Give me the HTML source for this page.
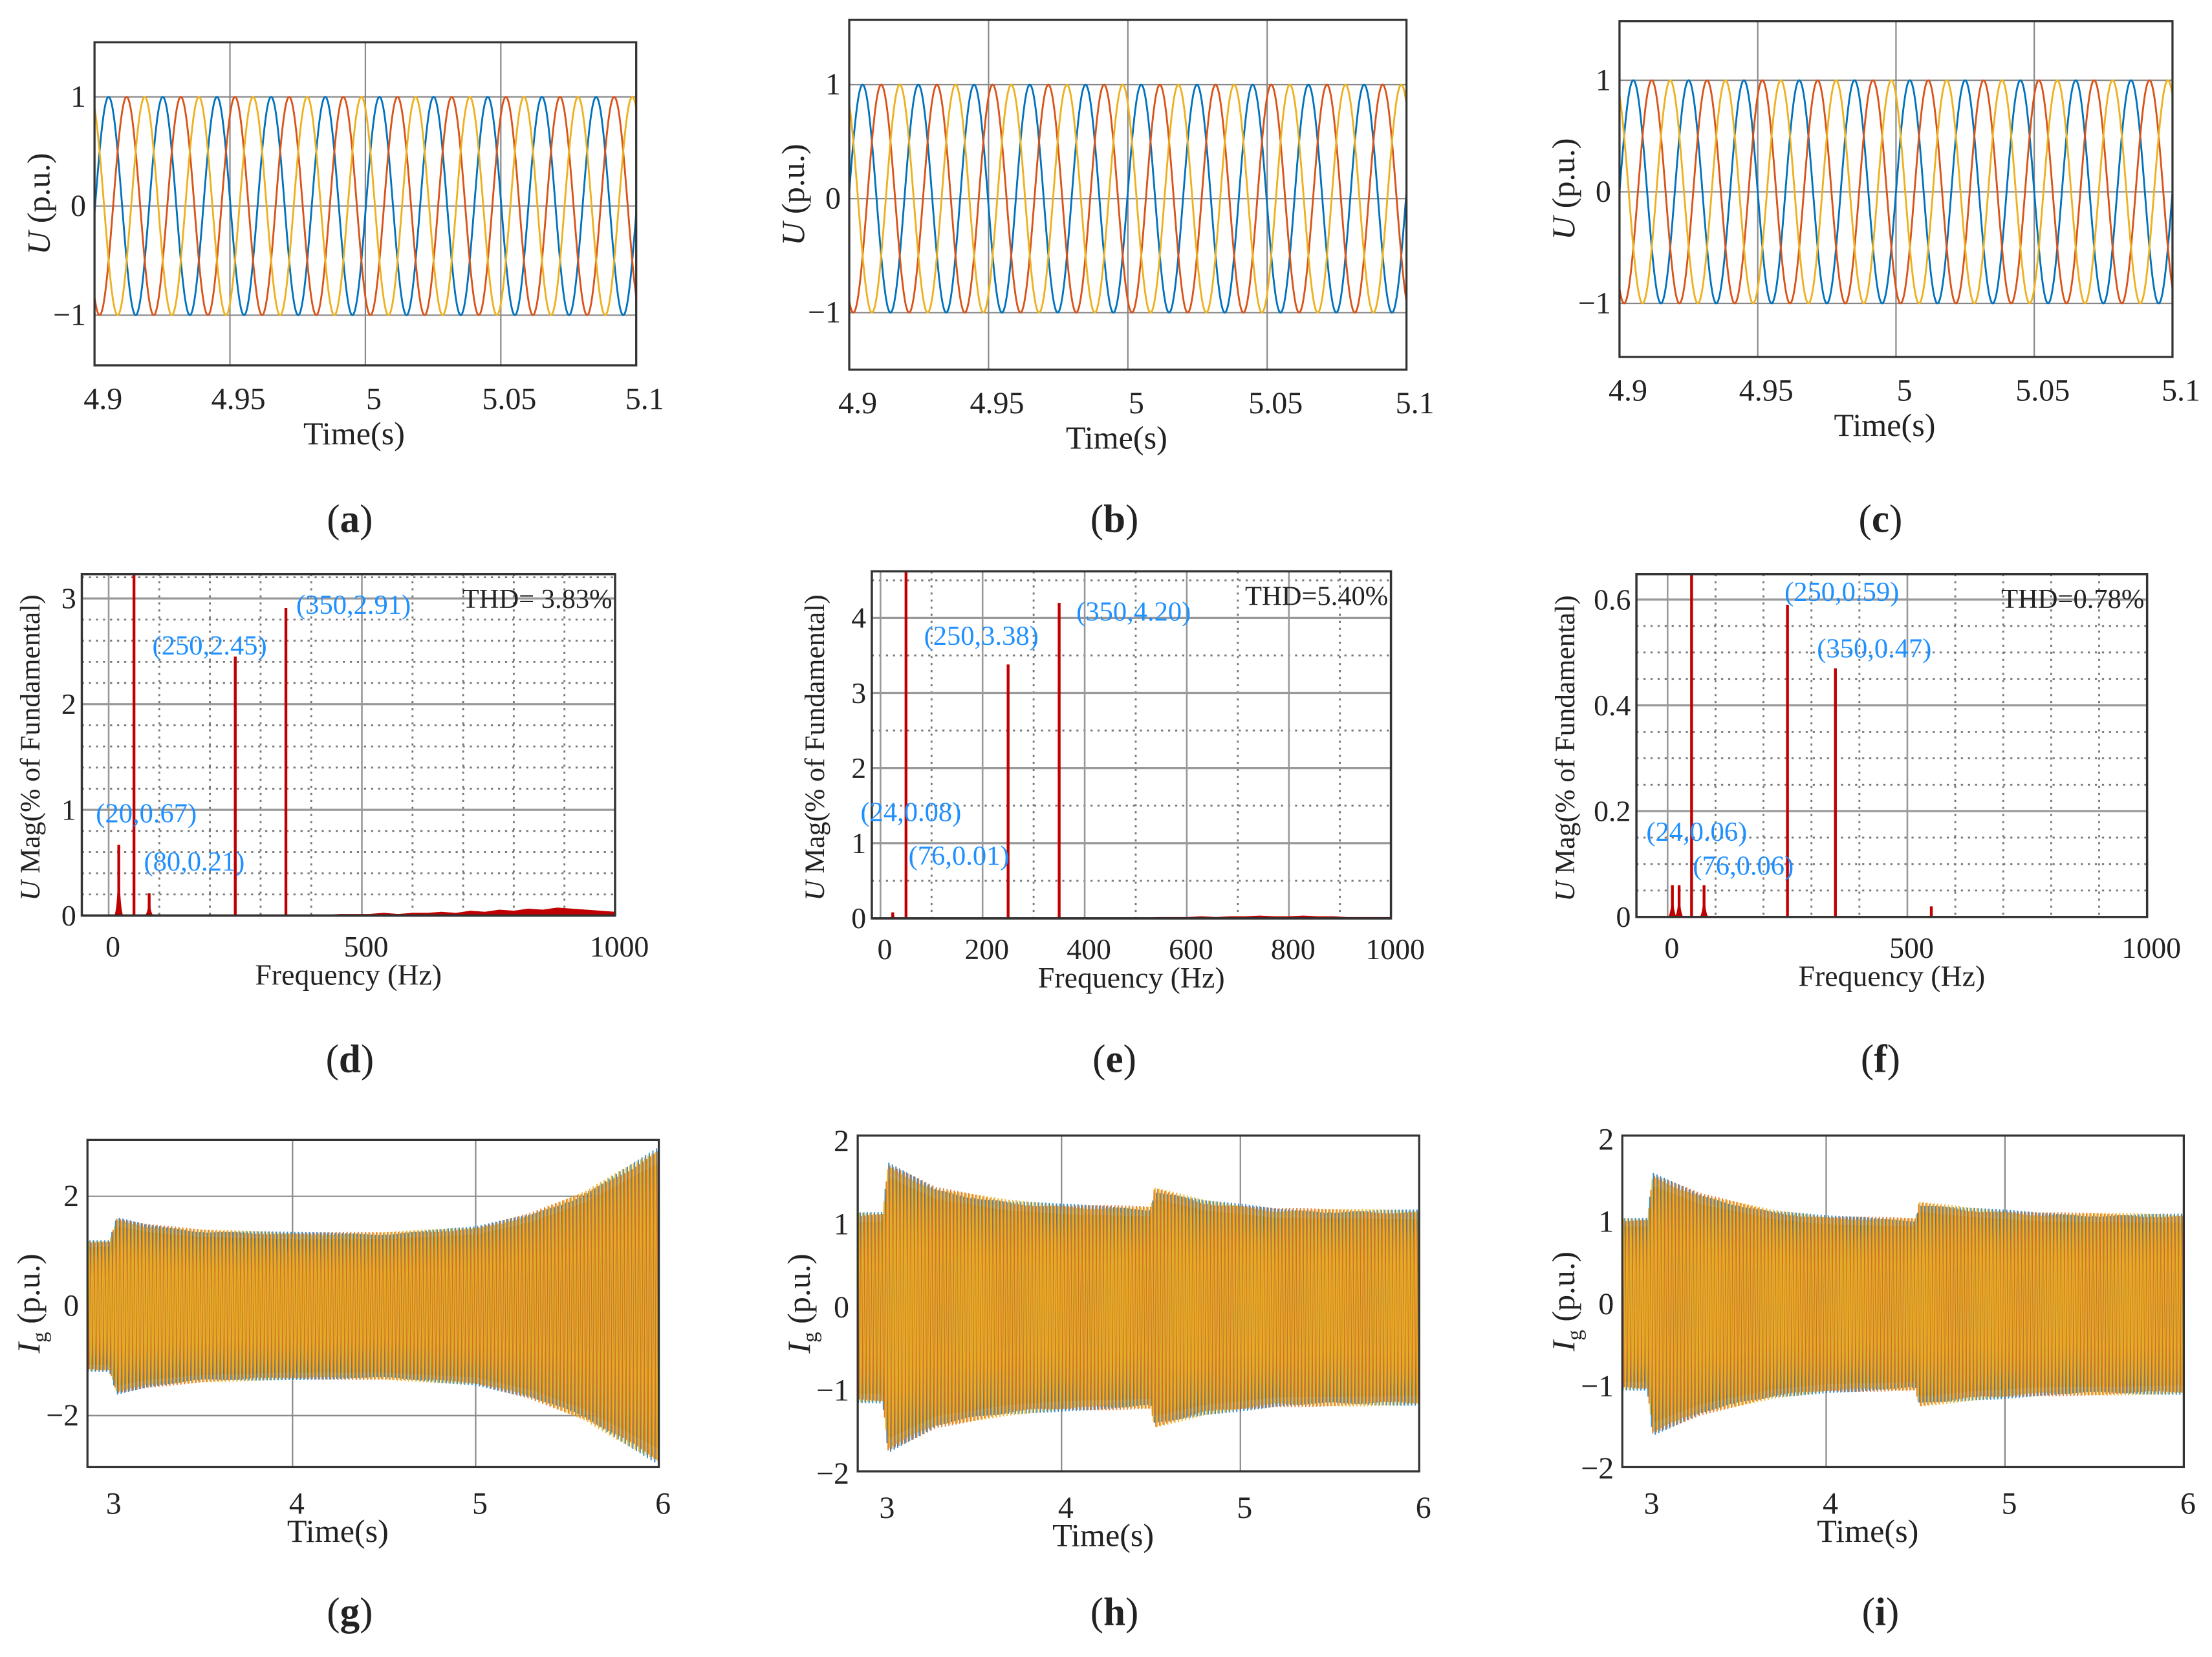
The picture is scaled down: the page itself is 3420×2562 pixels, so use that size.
<!DOCTYPE html>
<html><head><meta charset="utf-8">
<style>
html,body{margin:0;padding:0;background:#fff;}
svg{display:block;}
text{font-family:"Liberation Serif",serif;fill:#222;}
</style></head>
<body>
<svg id="fig" xmlns="http://www.w3.org/2000/svg" width="3420" height="2562" viewBox="0 0 1568 1174.6" preserveAspectRatio="none">
<rect width="1568" height="1175" fill="#fff"/>
</svg>
<script>
// ---------- data ----------
const phaseColors = ['#0072BD', '#D95319', '#EDB120'];
const gridFreq = 50;
const voltAmp = [1.0, 1.0, 1.0];
const voltPeak = [4.9052, 4.9048, 4.905];
// spectrum (d)
const specD_freq = [20, 50, 80, 250, 350];
const specD_mag = [0.67, 100, 0.21, 2.45, 2.91];
const specD_noise = [0,0,0.01,0.01,0.01,0.02,0.01,0.02,0.02,0.03,0.02,0.04,0.03,0.05,0.04,0.06,0.05,0.07,0.06,0.05,0.04,0.03];
const specD_labels = ['(20,0.67)','(80,0.21)','(250,2.45)','(350,2.91)'];
// spectrum (e)
const specE_freq = [24, 50, 76, 250, 350];
const specE_mag = [0.08, 100, 0.01, 3.38, 4.20];
const specE_noise = [0,0,0,0,0,0.01,0.01,0.01,0.02,0.01,0.02,0.02,0.03,0.02,0.02,0.03,0.02,0.02,0.01,0.01,0.01,0.01];
const specE_labels = ['(24,0.08)','(76,0.01)','(250,3.38)','(350,4.20)'];
// spectrum (f)
const specF_freq = [10, 24, 50, 76, 250, 350, 550];
const specF_mag = [0.06, 0.06, 100, 0.06, 0.59, 0.47, 0.02];
const specF_noise = [0,0,0,0,0,0,0,0,0,0,0,0,0,0,0,0,0,0,0,0,0,0];
const specF_labels = ['(24,0.06)','(76,0.06)','(250,0.59)','(350,0.47)'];
const thdLabels = ['THD= 3.83%', 'THD=5.40%', 'THD=0.78%'];
// current envelopes (g,h,i)
const envG_t = [2.88, 3.0, 3.04, 3.2, 3.5, 4.0, 4.5, 5.0, 5.3, 5.6, 5.8, 6.0];
const envG_a = [1.2, 1.2, 1.62, 1.5, 1.4, 1.35, 1.35, 1.45, 1.7, 2.1, 2.5, 2.9];
const envH_t = [2.88, 3.0, 3.03, 3.3, 3.7, 4.0, 4.5, 4.52, 4.8, 5.2, 6.0];
const envH_a = [1.15, 1.15, 1.75, 1.45, 1.3, 1.25, 1.22, 1.45, 1.3, 1.2, 1.18];
const envI_t = [2.88, 3.0, 3.03, 3.3, 3.7, 4.0, 4.5, 4.52, 4.8, 5.2, 6.0];
const envI_a = [1.05, 1.05, 1.6, 1.35, 1.15, 1.08, 1.05, 1.25, 1.18, 1.12, 1.1];

// ---------- helpers ----------
const NS = 'http://www.w3.org/2000/svg';
const svg = document.getElementById('fig');
function mk(tag, attrs, parent){
  const e = document.createElementNS(NS, tag);
  for (const k in attrs) e.setAttribute(k, attrs[k]);
  (parent||svg).appendChild(e);
  return e;
}
let clipId = 0;
function frame(p){
  const g = mk('g', {});
  
  
  const sx = v => p.x0 + (v - p.xmin) / (p.xmax - p.xmin) * (p.x1 - p.x0);
  const sy = v => p.y1 - (v - p.ymin) / (p.ymax - p.ymin) * (p.y1 - p.y0);
  const cid = 'clip' + (clipId++);
  const cp = mk('clipPath', {id: cid}, g);
  mk('rect', {x: p.x0, y: p.y0, width: p.x1 - p.x0, height: p.y1 - p.y0}, cp);
  return {g, sx, sy, cid};
}
function label(g, x, y, txt, size, opts){
  const t = mk('text', Object.assign({x, y, 'font-size': size, 'text-anchor': 'middle'}, opts||{}), g);
  t.textContent = txt;
  return t;
}
function caption(x, y, letter){
  const t = mk('text', {x, y, 'font-size': 28, 'text-anchor': 'middle'});
  
  
  t.appendChild(document.createTextNode('('));
  const b = mk('tspan', {'font-weight': 'bold'}, t); b.textContent = letter;
  t.appendChild(document.createTextNode(')'));
}
function yTitle(g, x, y, main, sub, rest, size){
  const t = mk('text', {x, y, 'font-size': size, 'text-anchor': 'middle', transform: `rotate(-90 ${x} ${y})`}, g);
  
  
  const a = mk('tspan', {'font-style': 'italic'}, t); a.textContent = main;
  if (sub){ const s = mk('tspan', {'font-size': size*0.65, dy: 5}, t); s.textContent = sub; const r = mk('tspan', {dy: -5}, t); r.textContent = rest; }
  else { const r = mk('tspan', {}, t); r.textContent = rest; }
}
function interp(ts, as, t){
  if (t <= ts[0]) return as[0];
  for (let i = 1; i < ts.length; i++) if (t <= ts[i]) { const f = (t - ts[i-1])/(ts[i]-ts[i-1]); return as[i-1] + f*(as[i]-as[i-1]); }
  return as[as.length-1];
}

// ---------- time voltage panels ----------
function voltPanel(p, idx){
  const f = frame(p);
  const g = f.g;
  mk('rect', {x: p.x0, y: p.y0, width: p.x1-p.x0, height: p.y1-p.y0, fill: '#fff'}, g);
  p.xticks.forEach(v => { mk('line', {x1: f.sx(v), x2: f.sx(v), y1: p.y0, y2: p.y1, stroke: '#888', 'stroke-width': 1}, g); });
  p.yticks.forEach(v => { mk('line', {x1: p.x0, x2: p.x1, y1: f.sy(v), y2: f.sy(v), stroke: '#888', 'stroke-width': 1}, g); });
  const cg = mk('g', {'clip-path': `url(#${f.cid})`}, g);
  for (let ph = 0; ph < 3; ph++){
    let d = '';
    const N = 800;
    for (let i = 0; i <= N; i++){
      const t = p.xmin + (p.xmax - p.xmin) * i / N;
      const v = voltAmp[idx] * Math.cos(2*Math.PI*gridFreq*(t - voltPeak[idx]) - ph*2*Math.PI/3);
      d += (i ? 'L' : 'M') + f.sx(t).toFixed(2) + ',' + f.sy(v).toFixed(2);
    }
    const pa = mk('path', {d, fill: 'none', stroke: phaseColors[ph], 'stroke-width': 1.3}, cg);
    
    
  }
  mk('rect', {x: p.x0, y: p.y0, width: p.x1-p.x0, height: p.y1-p.y0, fill: 'none', stroke: '#333', 'stroke-width': 1.5}, g);
  p.xlabels.forEach(v => { const t = label(g, f.sx(v) + 6, p.y1 + 31, String(v), 22);   });
  p.ylabels.forEach(v => { const t = label(g, p.x0 - 6, f.sy(v) + 7, v < 0 ? '\u22121' : String(v), 22, {'text-anchor': 'end'});   });
  const xt = label(g, (p.x0 + p.x1)/2 - 8, p.y1 + 56, 'Time(s)', 23);
   
  yTitle(g, p.x0 - 32, (p.y0 + p.y1)/2, 'U', null, ' (p.u.)', 23);
}

// ---------- spectrum panels ----------
function specPanel(p, freqs, mags, noise, labels, labelPos, thd){
  const f = frame(p);
  const g = f.g;
  p.minorX.forEach(v => mk('line', {x1: f.sx(v), x2: f.sx(v), y1: p.y0, y2: p.y1, stroke: '#777', 'stroke-width': 1.3, 'stroke-dasharray': '1.5,3.5'}, g));
  p.minorY.forEach(v => mk('line', {x1: p.x0, x2: p.x1, y1: f.sy(v), y2: f.sy(v), stroke: '#777', 'stroke-width': 1.3, 'stroke-dasharray': '1.5,3.5'}, g));
  p.xticks.forEach(v => mk('line', {x1: f.sx(v), x2: f.sx(v), y1: p.y0, y2: p.y1, stroke: '#999', 'stroke-width': 1.2}, g));
  p.yticks.forEach(v => mk('line', {x1: p.x0, x2: p.x1, y1: f.sy(v), y2: f.sy(v), stroke: '#999', 'stroke-width': 1.5}, g));
  const cg = mk('g', {'clip-path': `url(#${f.cid})`}, g);
  let nd = `M${f.sx(400)},${f.sy(0)}`;
  noise.forEach((m, i) => { const fx = 400 + i * 600 / (noise.length - 1); nd += `L${f.sx(fx)},${f.sy(m)}`; });
  nd += `L${f.sx(1000)},${f.sy(0)}Z`;
  const np = mk('path', {d: nd, fill: '#C00000', stroke: '#C00000', 'stroke-width': 0.8}, cg);
   
  freqs.forEach((fr, i) => {
    const b = mk('line', {x1: f.sx(fr), x2: f.sx(fr), y1: f.sy(0), y2: f.sy(mags[i]), stroke: '#C00000', 'stroke-width': 2}, cg);
     
    if (fr < 100 && mags[i] < 1.5) mk('path', {d: `M${f.sx(fr)-3},${f.sy(0)}Q${f.sx(fr)-0.5},${f.sy(mags[i]*0.15)} ${f.sx(fr)},${f.sy(mags[i])}Q${f.sx(fr)+0.5},${f.sy(mags[i]*0.15)} ${f.sx(fr)+3},${f.sy(0)}Z`, fill: '#C00000'}, cg);
  });
  mk('line', {x1: p.x0, x2: p.x1, y1: p.y1, y2: p.y1, stroke: '#111', 'stroke-width': 1.6}, g);
  mk('rect', {x: p.x0, y: p.y0, width: p.x1-p.x0, height: p.y1-p.y0, fill: 'none', stroke: '#333', 'stroke-width': 1.6}, g);
  labels.forEach((l, i) => { const t = label(g, labelPos[i][0], labelPos[i][1], l, 19.5, {'text-anchor': 'start'}); t.style.fill = '#1E90FF';   });
  const th = label(g, p.x1 - 2, p.y0 + 24, thd, 19.5, {'text-anchor': 'end'});
   
  p.xlabels.forEach(v => { const t = label(g, f.sx(v) + 3, p.y1 + 29, String(v), 21);   });
  p.yticks.forEach(v => { const t = label(g, p.x0 - 4, f.sy(v) + 7, String(v), 21, {'text-anchor': 'end'});   });
  const xt = label(g, (p.x0 + p.x1)/2, p.y1 + 49, 'Frequency (Hz)', 21);
   
  yTitle(g, p.x0 - p.titleOff, (p.y0 + p.y1)/2 + 2, 'U', null, ' Mag(% of Fundamental)', 20);
}

// ---------- current panels ----------
function currPanel(p, envT, envA){
  const f = frame(p);
  const g = f.g;
  p.xticks.forEach(v => mk('line', {x1: f.sx(v), x2: f.sx(v), y1: p.y0, y2: p.y1, stroke: '#888', 'stroke-width': 1}, g));
  p.yticks.forEach(v => mk('line', {x1: p.x0, x2: p.x1, y1: f.sy(v), y2: f.sy(v), stroke: '#888', 'stroke-width': 1}, g));
  const cg = mk('g', {'clip-path': `url(#${f.cid})`}, g);
  let top = '', bot = '';
  const M = 300;
  for (let i = 0; i <= M; i++){
    const t = p.xmin + (p.xmax - p.xmin) * i / M;
    const a = interp(envT, envA, t) * 0.9;
    top += (i ? 'L' : 'M') + f.sx(t).toFixed(2) + ',' + f.sy(a).toFixed(2);
    bot = 'L' + f.sx(t).toFixed(2) + ',' + f.sy(-a).toFixed(2) + bot;
  }
  const band = mk('path', {d: top + bot + 'Z', fill: '#E9A522'}, cg);
   
  for (let ph = 0; ph < 3; ph++){
    let d = '';
    const N = Math.round((p.xmax - p.xmin) * gridFreq * 10);
    for (let i = 0; i <= N; i++){
      const t = p.xmin + (p.xmax - p.xmin) * i / N;
      const a = interp(envT, envA, t);
      const v = a * Math.cos(2*Math.PI*gridFreq*t*1.002 - ph*2*Math.PI/3);
      d += (i ? 'L' : 'M') + f.sx(t).toFixed(2) + ',' + f.sy(v).toFixed(2);
    }
    const pa = mk('path', {d, fill: 'none', stroke: ph === 2 ? '#EDB120' : (ph === 1 ? '#E07020' : '#0072BD'), 'stroke-width': 0.9, opacity: ph === 0 ? 0.8 : 0.9}, cg);
    
    
  }
  mk('rect', {x: p.x0, y: p.y0, width: p.x1-p.x0, height: p.y1-p.y0, fill: 'none', stroke: '#333', 'stroke-width': 1.5}, g);
  p.xlabels.forEach(v => { const t = label(g, f.sx(v) + 3, p.y1 + 33, String(v), 22);   });
  p.ylabels.forEach(v => { const t = label(g, p.x0 - 6, f.sy(v) + 7, v < 0 ? '\u2212' + (-v) : String(v), 22, {'text-anchor': 'end'});   });
  const xt = label(g, (p.x0 + p.x1)/2 - 25, p.y1 + 53, 'Time(s)', 23);
   
  yTitle(g, p.x0 - 34, (p.y0 + p.y1)/2, 'I', 'g', ' (p.u.)', 23);
}

// ---------- layout ----------
const vt = [4.95, 5, 5.05];
voltPanel({name:'panel-a', x0:67, x1:451, y0:30, y1:259, xmin:4.9, xmax:5.1, ymin:-1.46, ymax:1.5, xticks:vt, yticks:[-1,0,1], xlabels:[4.9,4.95,5,5.05,5.1], ylabels:[-1,0,1]}, 0);
voltPanel({name:'panel-b', x0:602, x1:997, y0:14, y1:262, xmin:4.9, xmax:5.1, ymin:-1.5, ymax:1.57, xticks:vt, yticks:[-1,0,1], xlabels:[4.9,4.95,5,5.05,5.1], ylabels:[-1,0,1]}, 1);
voltPanel({name:'panel-c', x0:1148, x1:1540, y0:15, y1:253, xmin:4.9, xmax:5.1, ymin:-1.48, ymax:1.53, xticks:vt, yticks:[-1,0,1], xlabels:[4.9,4.95,5,5.05,5.1], ylabels:[-1,0,1]}, 2);
caption(248, 377, 'a'); caption(790, 377, 'b'); caption(1333, 377, 'c');

const h100 = [100,200,300,400,600,700,800,900];
specPanel({name:'panel-d', titleOff:30, x0:58, x1:436, y0:407, y1:649, xmin:-53, xmax:1000, ymin:0, ymax:3.23, xticks:[0,500], yticks:[0,1,2,3], xlabels:[0,500,1000], minorX:h100, minorY:[0.2,0.4,0.6,0.8,1.2,1.4,1.6,1.8,2.2,2.4,2.6,2.8,3.2]},
  specD_freq, specD_mag, specD_noise, specD_labels, [[68,583],[102,617],[108,464],[210,435]], thdLabels[0]);
specPanel({name:'panel-e', titleOff:34, x0:618, x1:986, y0:405, y1:651, xmin:-17, xmax:1000, ymin:0, ymax:4.62, xticks:[0,200,400,600,800], yticks:[0,1,2,3,4], xlabels:[0,200,400,600,800,1000], minorX:[100,300,500,700,900], minorY:[0.5,1.5,2.5,3.5,4.5]},
  specE_freq, specE_mag, specE_noise, specE_labels, [[610,582],[644,613],[655,457],[763,440]], thdLabels[1]);
specPanel({name:'panel-f', titleOff:44, x0:1160, x1:1522, y0:407, y1:650, xmin:-65, xmax:1000, ymin:0, ymax:0.648, xticks:[0,500], yticks:[0,0.2,0.4,0.6], xlabels:[0,500,1000], minorX:h100, minorY:[0.05,0.1,0.15,0.25,0.3,0.35,0.45,0.5,0.55]},
  specF_freq, specF_mag, specF_noise, specF_labels, [[1167,596],[1200,620],[1265,426],[1288,466]], thdLabels[2]);
caption(248, 760, 'd'); caption(790, 760, 'e'); caption(1333, 760, 'f');

currPanel({name:'panel-g', x0:62, x1:467, y0:808, y1:1040, xmin:2.88, xmax:6, ymin:-2.94, ymax:3.03, xticks:[4,5], yticks:[-2,0,2], xlabels:[3,4,5,6], ylabels:[-2,0,2]}, envG_t, envG_a);
currPanel({name:'panel-h', x0:608, x1:1006, y0:805, y1:1043, xmin:2.86, xmax:6, ymin:-1.97, ymax:2.07, xticks:[4,5], yticks:[], xlabels:[3,4,5,6], ylabels:[-2,-1,0,1,2]}, envH_t, envH_a);
currPanel({name:'panel-i', x0:1150, x1:1548, y0:805, y1:1040, xmin:2.86, xmax:6, ymin:-1.98, ymax:2.05, xticks:[4,5], yticks:[], xlabels:[3,4,5,6], ylabels:[-2,-1,0,1,2]}, envI_t, envI_a);
caption(248, 1152, 'g'); caption(790, 1152, 'h'); caption(1333, 1152, 'i');
</script>
</body></html>
